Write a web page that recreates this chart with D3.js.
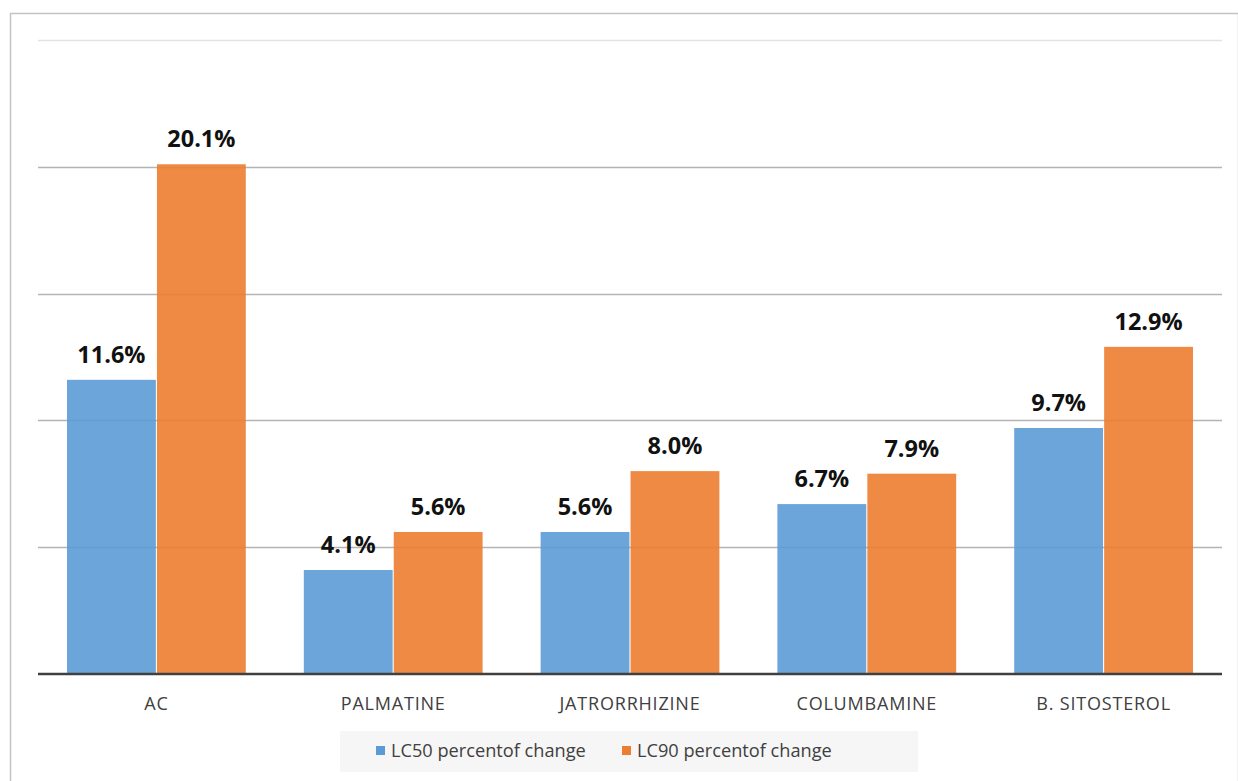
<!DOCTYPE html>
<html>
<head>
<meta charset="utf-8">
<script src="https://cdn.jsdelivr.net/npm/d3@7"></script>
<style>
  body { margin: 0; background: #fff; }
</style>
</head>
<body>
<div id="chart"></div>
<script>
// chart data
var categories = ["AC", "PALMATINE", "JATRORRHIZINE", "COLUMBAMINE", "B. SITOSTEROL"];
var seriesNames = ["LC50 percentof change", "LC90 percentof change"];
var lc50 = [11.6, 4.1, 5.6, 6.7, 9.7];
var lc90 = [20.1, 5.6, 8.0, 7.9, 12.9];
var yTicks = [0, 5, 10, 15, 20, 25];
var colors = ["#5b9bd5", "#ed7d31"];

var svgWidth = 1238;
var svgHeight = 781;

var margin = { top: 40, right: 16, bottom: 107, left: 38 };
var width = svgWidth - margin.left - margin.right;
var height = svgHeight - margin.top - margin.bottom;

var svg = d3.select("#chart").append("svg")
  .attr("width", svgWidth)
  .attr("height", svgHeight);

// outer frame
svg.append("rect")
  .attr("x", 10.5)
  .attr("y", 13.5)
  .attr("width", svgWidth - 10)
  .attr("height", svgHeight)
  .attr("fill", "#fff")
  .attr("stroke", "#c4c4c4")
  .attr("stroke-width", 1.5);

var chartGroup = svg.append("g")
  .attr("transform", `translate(${margin.left}, ${margin.top})`);

var x0 = d3.scaleBand()
  .domain(categories)
  .range([0, width])
  .paddingInner(0.245)
  .paddingOuter(0.1225);

var x1 = d3.scaleBand()
  .domain(seriesNames)
  .range([0, x0.bandwidth()])
  .paddingInner(0.012);

var y = d3.scaleLinear()
  .domain([0, 25])
  .range([height, 0]);

// gridlines
chartGroup.append("g")
  .selectAll("line")
  .data(yTicks.filter(d => d > 0))
  .enter()
  .append("line")
  .attr("x1", 0)
  .attr("x2", width)
  .attr("y1", d => Math.round(y(d)) + 0.5)
  .attr("y2", d => Math.round(y(d)) + 0.5)
  .attr("stroke", d => d === 25 ? "#e2e2e2" : "#b4b4b4")
  .attr("stroke-width", 1.5);

var rows = categories.map((c, i) => ({ cat: c, vals: [lc50[i], lc90[i]] }));

var groups = chartGroup.selectAll(".grp")
  .data(rows)
  .enter()
  .append("g")
  .attr("transform", d => `translate(${x0(d.cat)}, 0)`);

groups.selectAll("rect")
  .data(d => d.vals.map((v, j) => ({ key: seriesNames[j], v: v, j: j })))
  .enter()
  .append("rect")
  .attr("x", d => x1(d.key))
  .attr("y", d => y(d.v))
  .attr("width", x1.bandwidth())
  .attr("height", d => height - y(d.v))
  .attr("fill", d => colors[d.j])
  .attr("opacity", 0.9);

groups.selectAll("text")
  .data(d => d.vals.map((v, j) => ({ key: seriesNames[j], v: v })))
  .enter()
  .append("text")
  .attr("x", d => x1(d.key) + x1.bandwidth() / 2)
  .attr("y", d => y(d.v) - 17)
  .attr("text-anchor", "middle")
  .attr("font-family", "'Open Sans', sans-serif")
  .attr("font-weight", "bold")
  .attr("font-size", "23.5px")
  .attr("fill", "#111")
  .text(d => d.v.toFixed(1) + "%");

// baseline axis
var bottomAxis = d3.axisBottom(x0).tickSize(0).tickPadding(23);
var xAxis = chartGroup.append("g")
  .attr("transform", `translate(0, ${height})`)
  .call(bottomAxis);
xAxis.select(".domain")
  .attr("stroke", "#404040")
  .attr("stroke-width", 2.5)
  .attr("d", `M0,0H${width}`);
xAxis.selectAll("text")
  .attr("font-family", "'Open Sans', sans-serif")
  .attr("font-size", "18px")
  .attr("letter-spacing", "0.8px")
  .attr("fill", "#404040");

// legend
var legend = svg.append("g");
legend.append("rect")
  .attr("x", 340)
  .attr("y", 731)
  .attr("width", 578)
  .attr("height", 41)
  .attr("fill", "#f6f6f6");

var legendX = [376, 622];
seriesNames.forEach(function(name, i) {
  legend.append("rect")
    .attr("x", legendX[i])
    .attr("y", 746)
    .attr("width", 9)
    .attr("height", 9)
    .attr("fill", colors[i]);
  legend.append("text")
    .attr("x", legendX[i] + 15)
    .attr("y", 757)
    .attr("font-family", "'Open Sans', sans-serif")
    .attr("font-size", "18.2px")
    .attr("fill", "#404040")
    .text(name);
});
</script>
</body>
</html>
